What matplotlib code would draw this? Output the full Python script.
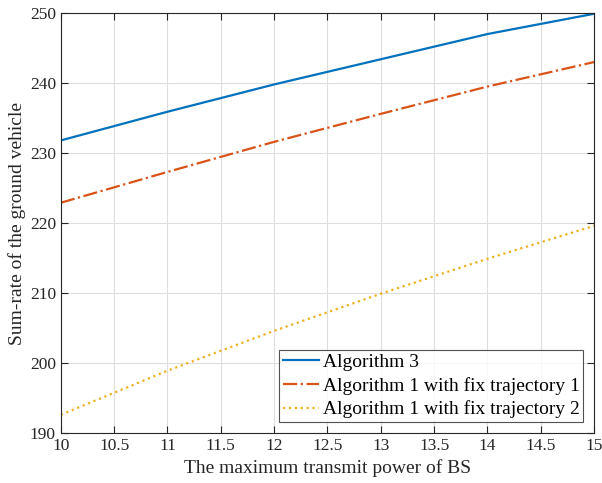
import numpy as np
import matplotlib
matplotlib.use("Agg")
import matplotlib.pyplot as plt

plt.rcParams['font.family'] = ['Liberation Serif', 'DejaVu Serif']

# 数据
power = [10, 11, 12, 13, 14, 15]
alg3 = [231.8, 235.9, 239.8, 243.4, 247.0, 249.9]
alg1_traj1 = [222.9, 227.3, 231.6, 235.6, 239.5, 243.0]
alg1_traj2 = [192.6, 198.9, 204.6, 209.9, 214.9, 219.6]

xticks = [10, 10.5, 11, 11.5, 12, 12.5, 13, 13.5, 14, 14.5, 15]
xticklabels = ['10', '10.5', '11', '11.5', '12', '12.5', '13', '13.5', '14', '14.5', '15']
yticks = [190, 200, 210, 220, 230, 240, 250]

fig = plt.figure(figsize=(6.02, 4.83), dpi=100)
ax = fig.add_axes([0.101, 0.1035, 0.886, 0.8695])

ax.plot(power, alg3, '-', color='#0072BD', lw=1.6, label='Algorithm 3')
ax.plot(power, alg1_traj1, '-.', color='#D95319', lw=1.6, label='Algorithm 1 with fix trajectory 1')
ax.plot(power, alg1_traj2, ':', color='#EDB120', lw=1.6, label='Algorithm 1 with fix trajectory 2')

ax.set_xlim(10, 15)
ax.set_ylim(190, 250)
ax.set_xticks(xticks)
ax.set_xticklabels(xticklabels)
ax.set_yticks(yticks)
ax.grid(True, color='#dedede', lw=0.8)
ax.set_axisbelow(True)
ax.tick_params(direction='in', top=True, right=True, labelsize=12.5, colors='#262626', length=5)
for s in ax.spines.values():
    s.set_color('#262626')
    s.set_linewidth(0.8)

ax.set_xlabel('The maximum transmit power of BS', fontsize=14, color='#262626', labelpad=4)
ax.set_ylabel('Sum-rate of the ground vehicle', fontsize=14, color='#262626', labelpad=3)

leg = ax.legend(loc='lower right', fontsize=14, frameon=True, fancybox=False,
                edgecolor='#262626', borderaxespad=0.55, handlelength=1.85,
                borderpad=0.2, labelspacing=0.3, handletextpad=0.2)
leg.get_frame().set_linewidth(0.8)

fig.savefig('out.png', dpi=100)
